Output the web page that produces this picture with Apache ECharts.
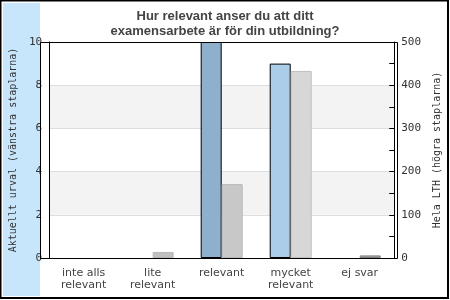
<!DOCTYPE html>
<html>
<head>
<meta charset="utf-8">
<script src="https://cdn.jsdelivr.net/npm/echarts@6/dist/echarts.min.js"></script>
<style>html,body{margin:0;padding:0;background:#fff}#c{width:450px;height:300px}</style>
</head>
<body>
<div id="c"></div>
<script>
var categories = ['inte alls\nrelevant', 'lite\nrelevant', 'relevant', 'mycket\nrelevant', 'ej svar'];
var currentValues = [0, 0, 10, 9, 0];      // Aktuellt urval (vänstra staplarna)
var lthValues = [0, 14, 171, 433, 6];       // Hela LTH (högra staplarna)
var leftTicks = [0, 2, 4, 6, 8, 10];
var rightTicks = [0, 100, 200, 300, 400, 500];

var blueColors = ['#abcde9', '#abcde9', '#8fb0cc', '#abcde9', '#abcde9'];
var grayColors = ['#d7d7d7', '#c0c0c0', '#c8c8c8', '#d7d7d7', '#a3a3a3'];
var grayBorders = ['#c0c0c0', '#b8b8b8', '#b8b8b8', '#c0c0c0', '#808080'];

var G = {left: 40, right: 52, top: 42, bottom: 42};
var W = 450, H = 300;

var chart = echarts.init(document.getElementById('c'), null, {renderer: 'canvas'});
var mono = 'DejaVu Sans Mono';
chart.setOption({
  animation: false,
  backgroundColor: '#fff',
  title: {
    text: 'Hur relevant anser du att ditt\nexamensarbete är för din utbildning?',
    left: 'center', top: 4,
    textStyle: {fontFamily: 'Liberation Sans', fontSize: 13, fontWeight: 'bold', color: '#444', lineHeight: 15}
  },
  graphic: [
    {type: 'rect', z: -10, silent: true, shape: {x: 3, y: 3, width: 37, height: 293}, style: {fill: '#c8e6fb'}},
    {type: 'rect', z: 100, silent: true, shape: {x: 0.5, y: 0.5, width: 447.5, height: 297.5}, style: {fill: null, stroke: '#000', lineWidth: 2}},
    {type: 'rect', z: 100, silent: true,
      shape: {x: G.left + 0.5, y: G.top + 0.5, width: W - G.left - G.right - 1, height: H - G.top - G.bottom},
      style: {fill: null, stroke: '#000', lineWidth: 1}}
  ],
  grid: G,
  xAxis: [{
    type: 'category', data: categories,
    axisLine: {lineStyle: {color: '#000', width: 1}},
    axisTick: {show: false},
    axisLabel: {fontFamily: 'DejaVu Sans', fontSize: 11, color: '#444', lineHeight: 12, margin: 9, interval: 0}
  }],
  yAxis: [{
    type: 'value', min: leftTicks[0], max: leftTicks[leftTicks.length - 1], interval: 2,
    name: 'Aktuellt urval (vänstra staplarna)', nameLocation: 'middle', nameGap: 31, nameRotate: 90,
    nameTextStyle: {fontFamily: mono, fontSize: 10, color: '#333'},
    axisLine: {show: true, lineStyle: {color: '#000'}},
    axisTick: {show: false},
    axisLabel: {fontFamily: mono, fontSize: 11, color: '#333', margin: 7},
    splitLine: {show: true, lineStyle: {color: '#dedede'}},
    splitArea: {show: true, areaStyle: {color: ['#ffffff', '#f3f3f3']}}
  }, {
    type: 'value', min: rightTicks[0], max: rightTicks[rightTicks.length - 1], interval: 50,
    position: 'right',
    name: 'Hela LTH (högra staplarna)', nameLocation: 'middle', nameGap: 34, nameRotate: 90,
    nameTextStyle: {fontFamily: mono, fontSize: 10, color: '#333'},
    axisLine: {show: true, lineStyle: {color: '#000'}},
    axisTick: {show: true, inside: true, length: 5, lineStyle: {color: '#000'}},
    axisLabel: {fontFamily: mono, fontSize: 11, color: '#333', margin: 7,
      formatter: function (v) { return rightTicks.indexOf(v) >= 0 ? String(v) : ''; }},
    splitLine: {show: false}
  }],
  series: [{
    type: 'bar', yAxisIndex: 0, barWidth: 21, barGap: '0%',
    data: currentValues.map(function (v, i) {
      return {value: v === 0 ? '-' : v, itemStyle: {color: blueColors[i]}};
    }),
    itemStyle: {borderColor: '#000', borderWidth: 1}
  }, {
    type: 'bar', yAxisIndex: 1, barWidth: 21, barGap: '0%',
    data: lthValues.map(function (v, i) {
      return {value: v === 0 ? '-' : v, itemStyle: {color: grayColors[i], borderColor: grayBorders[i]}};
    }),
    itemStyle: {borderWidth: 1}
  }]
});
</script>
</body>
</html>
